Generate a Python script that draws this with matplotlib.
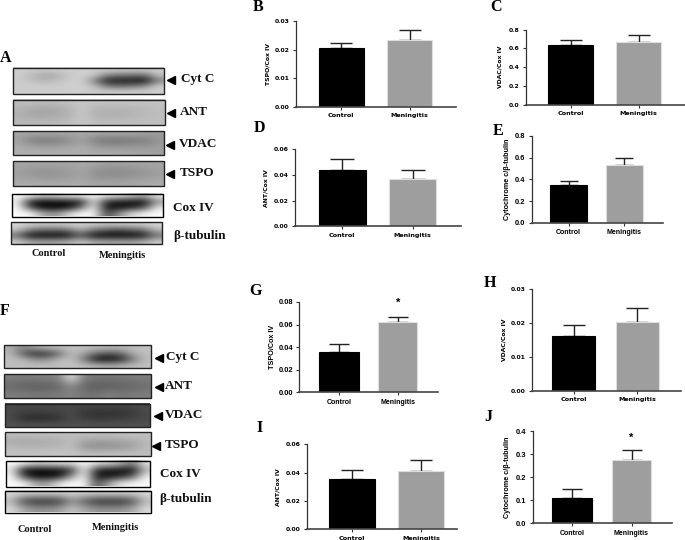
import numpy as np
import matplotlib
matplotlib.use('Agg')
import matplotlib.pyplot as plt
from matplotlib.patches import Rectangle

W, H = 685, 540

groups = ['Control', 'Meningitis']

# Bar charts: means and upper error values
tspo_a = [0.0205, 0.0235]
tspo_a_err = [0.0017, 0.0032]
vdac_a = [0.64, 0.67]
vdac_a_err = [0.045, 0.07]
ant_a = [0.044, 0.0365]
ant_a_err = [0.0085, 0.0075]
cyt_a = [0.345, 0.53]
cyt_a_err = [0.04, 0.065]
tspo_f = [0.036, 0.0625]
tspo_f_err = [0.007, 0.0042]
vdac_f = [0.0163, 0.0202]
vdac_f_err = [0.003, 0.0043]
ant_f = [0.0352, 0.041]
ant_f_err = [0.0066, 0.0082]
cyt_f = [0.11, 0.275]
cyt_f_err = [0.04, 0.042]

ticks_03 = [0.00, 0.01, 0.02, 0.03]
ticks_06 = [0.00, 0.02, 0.04, 0.06]
ticks_08 = [0.00, 0.02, 0.04, 0.06, 0.08]
ticks_8 = [0.0, 0.2, 0.4, 0.6, 0.8]
ticks_4 = [0.0, 0.1, 0.2, 0.3, 0.4]

# Blots, rough grey levels by eye (rows top to bottom)
a_cyt = [[205, 205, 205, 205, 205, 205, 205, 205, 205, 205, 205, 205],
         [205, 185, 165, 175, 200, 210, 200, 135, 120, 115, 110, 195],
         [205, 190, 180, 190, 205, 210, 130, 35, 30, 25, 20, 130],
         [205, 205, 205, 205, 205, 210, 185, 115, 105, 115, 140, 205],
         [205, 205, 205, 205, 205, 205, 205, 205, 205, 205, 205, 205]]
a_ant = [[190, 190, 190, 190, 195, 200, 195, 195, 195, 195, 195, 195],
         [180, 170, 165, 170, 180, 200, 180, 180, 180, 180, 185, 190],
         [175, 165, 165, 170, 180, 200, 175, 175, 175, 180, 185, 190],
         [185, 185, 185, 185, 190, 200, 190, 190, 190, 190, 190, 190]]
a_vdac = [[165, 165, 165, 165, 165, 170, 165, 165, 165, 165, 160, 155],
          [160, 125, 120, 125, 140, 160, 125, 115, 115, 120, 125, 150],
          [170, 160, 155, 155, 165, 170, 155, 145, 145, 150, 150, 155],
          [175, 175, 175, 175, 175, 175, 170, 170, 170, 165, 165, 160]]
a_tspo = [[165, 165, 165, 165, 165, 170, 165, 160, 160, 165, 165, 165],
          [160, 150, 145, 150, 155, 165, 145, 140, 140, 145, 150, 160],
          [160, 155, 150, 150, 155, 165, 145, 145, 145, 150, 155, 160],
          [170, 170, 170, 170, 170, 170, 165, 165, 165, 165, 170, 170]]
a_cox = [[250, 245, 205, 220, 235, 240, 250, 240, 225, 205, 170, 235],
         [235, 20, 8, 12, 15, 30, 225, 40, 25, 15, 12, 150],
         [250, 70, 8, 8, 15, 110, 250, 20, 15, 35, 70, 230],
         [250, 250, 170, 150, 220, 250, 250, 70, 150, 220, 245, 250]]
a_tub = [[215, 205, 200, 200, 205, 210, 205, 195, 200, 200, 205, 215],
         [190, 120, 95, 95, 100, 170, 110, 85, 65, 85, 100, 180],
         [110, 15, 8, 8, 15, 90, 20, 8, 8, 8, 20, 110],
         [205, 170, 165, 165, 175, 200, 175, 165, 165, 165, 175, 205]]
f_cyt = [[175, 135, 165, 185, 190, 195, 195, 190, 185, 185, 190, 195],
         [185, 95, 40, 50, 110, 190, 160, 100, 80, 100, 175, 190],
         [190, 185, 145, 145, 185, 195, 120, 20, 12, 35, 125, 190],
         [190, 190, 190, 190, 190, 195, 190, 180, 170, 180, 190, 190]]
f_ant = [[125, 125, 125, 130, 130, 235, 125, 120, 120, 120, 125, 125],
         [105, 95, 90, 95, 100, 135, 100, 90, 90, 95, 100, 110],
         [125, 125, 120, 120, 125, 130, 120, 115, 130, 120, 125, 125]]
f_vdac = [[70, 70, 70, 70, 70, 70, 70, 70, 70, 70, 70, 75],
          [75, 65, 65, 65, 70, 75, 55, 50, 50, 50, 55, 75],
          [75, 45, 40, 40, 50, 75, 60, 55, 55, 60, 65, 70],
          [80, 80, 80, 80, 80, 80, 80, 80, 80, 80, 80, 80]]
f_tspo = [[190, 190, 190, 190, 190, 190, 190, 190, 190, 190, 195, 190],
          [170, 165, 170, 170, 175, 190, 165, 160, 160, 165, 170, 185],
          [185, 180, 180, 180, 185, 190, 150, 140, 145, 150, 160, 185],
          [195, 195, 195, 195, 195, 195, 190, 190, 190, 190, 190, 190]]
f_cox = [[250, 250, 215, 225, 235, 230, 250, 235, 220, 190, 130, 235],
         [225, 20, 8, 12, 15, 60, 245, 40, 25, 15, 15, 180],
         [250, 60, 8, 8, 25, 160, 250, 20, 15, 35, 90, 240],
         [250, 250, 170, 170, 240, 250, 250, 80, 170, 235, 250, 250]]
f_tub = [[220, 210, 210, 210, 210, 215, 210, 210, 210, 210, 210, 220],
         [180, 70, 40, 40, 50, 140, 90, 40, 40, 40, 70, 180],
         [220, 170, 150, 150, 160, 200, 170, 150, 150, 150, 170, 220]]

fig = plt.figure(figsize=(W / 100, H / 100), dpi=100, facecolor='white')

# full page axes in pixel coords for blots and letters
page = fig.add_axes([0, 0, 1, 1])
page.axis('off')


def blot(vals, l, r, t, b, edge='#222222'):
    page.imshow(vals, extent=(l, r, b, t), cmap='gray', vmin=0, vmax=255,
                aspect='auto', interpolation='bicubic')
    page.add_patch(Rectangle((l, t), r - l, b - t, fill=False, ec=edge, lw=1.0))


def blot_label(txt, x, y, arrow=None):
    page.text(x, y, txt, family='Liberation Serif', weight='bold', fontsize=9.5,
              va='center', ha='left', color='#111111')
    if arrow is not None:
        page.plot([arrow], [y + 0.5], marker='<', ms=5.5, color='black', ls='none')


blot(a_cyt, 13.5, 164, 67.5, 94)
blot(a_ant, 13, 165, 99.5, 125)
blot(a_vdac, 13, 164.5, 131, 155)
blot(a_tspo, 13, 164.5, 161, 186)
blot(a_cox, 12, 163, 193.5, 216.5, edge='black')
blot(a_tub, 11.5, 162.5, 222, 244)

blot(f_cyt, 4, 151.5, 345, 368)
blot(f_ant, 4, 151, 374, 398)
blot(f_vdac, 5, 150, 403.5, 427)
blot(f_tspo, 5.5, 151, 432, 456)
blot(f_cox, 6, 150.5, 460.5, 486.5, edge='black')
blot(f_tub, 5.5, 151, 490.5, 512.5, edge='black')

blot_label('Cyt C', 181, 79, arrow=171)
blot_label('ANT', 180, 112, arrow=171)
blot_label('VDAC', 179, 144, arrow=170)
blot_label('TSPO', 180, 173, arrow=170)
blot_label('Cox IV', 173, 208)
blot_label('β-tubulin', 173, 236)

blot_label('Cyt C', 166, 357, arrow=159)
blot_label('ANT', 165, 386, arrow=159)
blot_label('VDAC', 165, 415, arrow=158)
blot_label('TSPO', 165, 445, arrow=156)
blot_label('Cox IV', 160, 474)
blot_label('β-tubulin', 159, 499)

for txt, x, y in [('Control', 49, 254), ('Meningitis', 123, 256),
                  ('Control', 35, 530), ('Meningitis', 116, 528)]:
    page.text(x, y, txt, family='Liberation Serif', weight='bold', fontsize=7.5,
              ha='center', va='center', color='#111111')

for txt, x, y in [('A', 6, 58), ('B', 258, 7), ('C', 496, 7), ('D', 259, 128),
                  ('E', 498, 131), ('F', 5, 311), ('G', 256, 291), ('H', 490, 283),
                  ('I', 260, 428), ('J', 488, 417)]:
    page.text(x, y, txt, family='Liberation Serif', weight='bold', fontsize=11.5,
              ha='center', va='center', color='black')

page.set_xlim(0, W)
page.set_ylim(H, 0)


def bars(vals, errs, ticks, ylabel, box, centres, bar_w, label_x, big=False,
         decimals=2, star=None):
    left, right, top, bottom = box
    ax = fig.add_axes([left / W, 1 - bottom / H, (right - left) / W, (bottom - top) / H])
    ax.patch.set_alpha(0)
    c1, c2 = centres
    gap = c2 - c1
    ax.set_xlim(1 - (c1 - left) / gap, 2 + (right - c2) / gap)
    ax.set_ylim(0, ticks[-1])

    ax.bar([1, 2], vals, width=bar_w / gap, color=['black', '#9e9e9e'],
           edgecolor=['black', '#dedede'], linewidth=0.8, zorder=2)
    for x, v, e in zip([1, 2], vals, errs):
        ax.errorbar(x, v, yerr=[[0], [e]], color='#222222', elinewidth=1.0,
                    capsize=bar_w * 0.18, capthick=1.0, zorder=1)

    for s in ['top', 'right']:
        ax.spines[s].set_visible(False)
    ax.spines['left'].set_color('#333333')
    ax.spines['left'].set_linewidth(0.9)
    ax.spines['bottom'].set_color('#444444')
    ax.spines['bottom'].set_linewidth(1.2)

    if big:
        tick_font = dict(family='Liberation Sans', weight='bold', fontsize=5.4)
        label_font = dict(family='Liberation Sans', weight='bold', fontsize=5.2)
        xfont = dict(family='Liberation Sans', weight='bold', fontsize=5.0)
    else:
        tick_font = dict(family='DejaVu Sans', weight='bold', fontsize=4.4)
        label_font = dict(family='DejaVu Sans', weight='bold', fontsize=4.4)
        xfont = dict(family='DejaVu Sans', weight='bold', fontsize=4.6)

    ax.set_xticks([1, 2])
    ax.set_xticklabels(groups, **xfont)
    ax.set_yticks(ticks)
    ax.set_yticklabels([f'{t:.{decimals}f}' for t in ticks], **tick_font)
    ax.tick_params(axis='both', length=2.5, width=0.8, color='#333333', pad=2)
    ax.set_ylabel(ylabel, **label_font)
    ax.yaxis.set_label_coords((label_x - left) / (right - left), 0.5)

    if star is not None:
        ax.text(2, star, '*', ha='center', va='center', fontsize=8,
                family='Liberation Sans', weight='bold', clip_on=False)


bars(tspo_a, tspo_a_err, ticks_03, 'TSPO/Cox IV', (296, 456, 21, 106.7), (341.3, 409.5), 45.5, 270)
bars(vdac_a, vdac_a_err, ticks_8, 'VDAC/Cox IV', (526, 685, 29.7, 104.7), (570.8, 638.7), 45, 503, decimals=1)
bars(ant_a, ant_a_err, ticks_06, 'ANT/Cox IV', (295, 461, 149, 226.3), (342.2, 412.8), 47, 268)
bars(cyt_a, cyt_a_err, ticks_8, 'Cytochrome c/β-tubulin', (531.7, 662.7, 136, 222.7), (568.7, 624.3), 37.3, 511,
     big=True, decimals=1)
bars(tspo_f, tspo_f_err, ticks_08, 'TSPO/Cox IV', (299.3, 438.3, 302, 392.3), (339, 397.7), 39.3, 276, big=True, star=0.0795)
bars(vdac_f, vdac_f_err, ticks_03, 'VDAC/Cox IV', (531.7, 680.7, 289.3, 390.7), (573.7, 637.3), 43, 507)
bars(ant_f, ant_f_err, ticks_06, 'ANT/Cox IV', (306.7, 457, 444.3, 529.3), (352.3, 421.2), 46, 281)
bars(cyt_f, cyt_f_err, ticks_4, 'Cytochrome c/β-tubulin', (532.7, 671.7, 431, 523.3), (572.2, 631.5), 39.7, 511,
     big=True, decimals=1, star=0.372)

plt.savefig('out.png', dpi=100)
